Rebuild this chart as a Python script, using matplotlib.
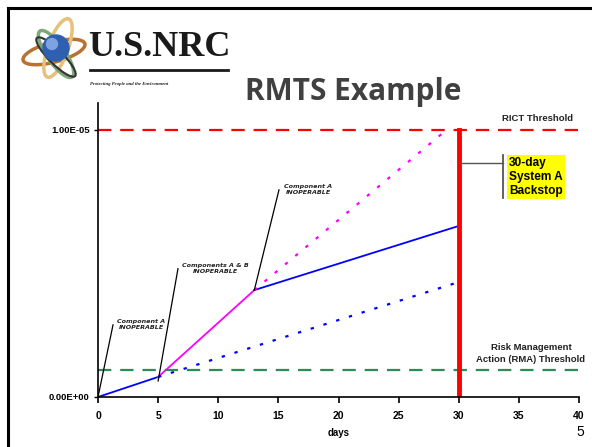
import matplotlib.pyplot as plt
from matplotlib.patches import Ellipse, Circle

# data
days_base = [0, 5]
risk_base = [0, 0.75e-6]
days_ab = [5, 13]
risk_ab = [0.75e-6, 4.0e-6]
days_a2 = [13, 30]
risk_a2 = [4.0e-6, 6.4e-6]
days_ab_ext = [13, 29]
risk_ab_ext = [4.0e-6, 1.0e-5]
days_a_ext = [5, 30]
risk_a_ext = [0.75e-6, 4.3e-6]
rict = 1.0e-5
rma = 1.0e-6
backstop_day = 30
xticks = [0, 5, 10, 15, 20, 25, 30, 35, 40]
yticks = [0, 1.0e-5]
ytick_labels = ["0.00E+00", "1.00E-05"]

W, H = 592, 447
fig = plt.figure(figsize=(W / 100, H / 100), dpi=100)

def fx(px):
    return px / W

def fy(py):
    return 1 - py / H

# slide border (top and left)
fig.add_artist(plt.Line2D([fx(8), 1], [fy(8), fy(8)], color="black", lw=2.2))
fig.add_artist(plt.Line2D([fx(8), fx(8)], [fy(8), 0], color="black", lw=2.2))

# logo (approximation)
lg = fig.add_axes([0, fy(95), fx(240), fy(10) - fy(95)])
lg.set_xlim(0, 240)
lg.set_ylim(95, 10)
lg.axis("off")
lg.add_patch(Ellipse((54, 52), 64, 20, angle=-15, fill=False, ec="#b87333", lw=2.5))
lg.add_patch(Ellipse((58, 48), 20, 62, angle=20, fill=False, ec="#e8c07a", lw=2.5))
lg.add_patch(Ellipse((56, 54), 18, 56, angle=-35, fill=False, ec="#7fa878", lw=2.5))
lg.add_patch(Ellipse((56, 57), 14, 54, angle=-45, fill=False, ec="#333333", lw=1.5))
lg.add_patch(Circle((56, 48), 13, color="#2f5fb0"))
lg.add_patch(Circle((52, 44), 5.5, color="#7fa3e0"))
lg.text(88, 47, "U.S.NRC", family="Liberation Serif", weight="bold", fontsize=26,
        color="#1a1a1a", va="center", ha="left")
lg.plot([90, 228], [70, 70], color="#1a1a1a", lw=2)
lg.text(90, 84, "Protecting People and the Environment", family="Liberation Serif",
        style="italic", weight="bold", fontsize=3.4, color="#1a1a1a", va="center")

# title
fig.text(fx(353), fy(92), "RMTS Example", fontsize=21.5, weight="bold", color="#404040",
         family="Open Sans", ha="center", va="center")

ax = fig.add_axes([fx(98), fy(397), fx(579) - fx(98), fy(103) - fy(397)])
ax.set_xlim(0, 40)
ax.set_ylim(0, 1.1e-5)

ax.plot(days_base, risk_base, color="#0000ff", lw=1.3)
ax.plot(days_ab, risk_ab, color="#ff00ff", lw=1.3)
ax.plot(days_a2, risk_a2, color="#0000ff", lw=1.3)
ax.plot(days_ab_ext, risk_ab_ext, color="#ff00ff", lw=1.6, ls=(0, (1.5, 4.5)))
ax.plot(days_a_ext, risk_a_ext, color="#0000ff", lw=1.6, ls=(0, (1.5, 4.5)))

ax.axhline(rict, color="#ff0000", lw=1.6, ls=(0, (6, 4)))
ax.axhline(rma, color="#2e8b57", lw=1.6, ls=(0, (6, 4)))
ax.plot([backstop_day, backstop_day], [0, rict], color="#ff0000", lw=3.5)

txt = dict(fontsize=4.6, weight="bold", style="oblique", color="#222222", ha="center",
           family="DejaVu Sans", linespacing=1.3)
ax.plot([0, 1.25], [0, 2.7e-6], color="black", lw=0.9)
ax.text(3.6, 2.7e-6, "Component A\nINOPERABLE", va="center", **txt)
ax.plot([5, 6.65], [0.6e-6, 4.8e-6], color="black", lw=0.9)
ax.text(9.8, 4.8e-6, "Components A & B\nINOPERABLE", va="center", **txt)
ax.plot([13, 15.05], [4.0e-6, 7.75e-6], color="black", lw=0.9)
ax.text(17.5, 7.75e-6, "Component A\nINOPERABLE", va="center", **txt)

lab = dict(fontsize=6.8, weight="bold", color="#222222", family="Liberation Sans")
ax.text(39.5, rict + 0.25e-6, "RICT Threshold", ha="right", va="bottom", **lab)
ax.text(36.0, rma + 0.25e-6, "Risk Management\nAction (RMA) Threshold", ha="center",
        va="bottom", linespacing=1.3, **lab)

# backstop callout
ax.plot([30, 33.7], [8.76e-6, 8.76e-6], color="#555555", lw=1)
ax.plot([33.7, 33.7], [7.45e-6, 9.06e-6], color="#555555", lw=1.3)
ax.text(34.2, 8.24e-6, "30-day\nSystem A\nBackstop", fontsize=8.6, weight="bold",
        family="Liberation Sans", va="center", ha="left", linespacing=1.2,
        bbox=dict(facecolor="#ffff00", edgecolor="none", pad=1.5))

for s in ["top", "right"]:
    ax.spines[s].set_visible(False)
ax.spines["left"].set_linewidth(1.2)
ax.spines["bottom"].set_linewidth(1.2)
ax.set_xticks(xticks)
ax.set_xticklabels([str(v) for v in xticks], fontsize=7.5, weight="bold",
                   family="Liberation Sans")
ax.set_yticks(yticks)
ax.set_yticklabels(ytick_labels, fontsize=6.8, weight="bold", family="Liberation Sans")
ax.tick_params(axis="x", length=4, width=1.2, pad=6)
ax.tick_params(axis="y", length=3, width=1, pad=3)
ax.set_xlabel("days", fontsize=7, weight="bold", family="Liberation Sans", labelpad=5)

fig.text(fx(580), fy(432), "5", fontsize=10, ha="center", va="center",
         family="Liberation Sans")

fig.savefig("out.png", dpi=100)
